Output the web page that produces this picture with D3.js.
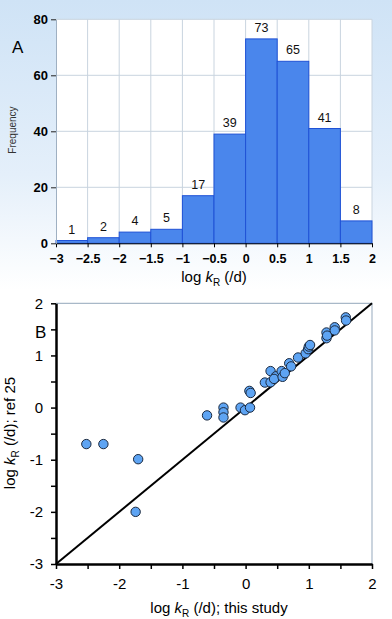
<!DOCTYPE html>
<meta charset="utf-8">
<head>
<style>
body { margin: 0; background: #fff; }
svg { display: block; font-family: "Liberation Sans", Arial, sans-serif; }
</style>
</head>
<script src="https://d3js.org/d3.v7.min.js"></script>
<div id="chart"></div>
<script>

// ---- data: panel A (histogram) ----
var binStarts = [-3, -2.5, -2, -1.5, -1, -0.5, 0, 0.5, 1, 1.5];
var binWidth = 0.5;
var frequency = [1, 2, 4, 5, 17, 39, 73, 65, 41, 8];
var histXTicks = [-3, -2.5, -2, -1.5, -1, -0.5, 0, 0.5, 1, 1.5, 2];
var histYTicks = [0, 20, 40, 60, 80];

// ---- data: panel B (scatter) ----
var studyLogK = [-2.52, -2.25, -1.70, -1.74, -0.61, -0.35, -0.35, -0.35, -0.08, -0.01,
                 0.07, 0.06, 0.08, 0.305, 0.395, 0.395, 0.48, 0.45, 0.57, 0.585, 0.62,
                 0.69, 0.72, 0.83, 0.95, 0.99, 1.0, 1.02, 1.28, 1.28, 1.29, 1.41, 1.41,
                 1.585, 1.59];
var refLogK   = [-0.70, -0.70, -0.99, -2.0, -0.15, 0.0, -0.09, -0.19, 0.0, -0.05,
                 0.0, 0.32, 0.28, 0.48, 0.70, 0.485, 0.6, 0.55, 0.70, 0.59, 0.66,
                 0.85, 0.79, 0.96, 1.04, 1.12, 1.17, 1.2, 1.44, 1.33, 1.38, 1.54, 1.48,
                 1.73, 1.67];
var scatterTicks = [-3, -2, -1, 0, 1, 2];
var scatterMinor = [-3, -2.5, -2, -1.5, -1, -0.5, 0, 0.5, 1, 1.5, 2];

var W = 392, H = 619;
var svg = d3.select("#chart").append("svg")
  .attr("width", W).attr("height", H);

// panel A background gradient
var defs = svg.append("defs");
var grad = defs.append("linearGradient").attr("id", "bgA")
  .attr("x1", 0).attr("y1", 0).attr("x2", 0).attr("y2", 1);
grad.append("stop").attr("offset", "0%").attr("stop-color", "#cfe3f6");
grad.append("stop").attr("offset", "60%").attr("stop-color", "#e4effa");
grad.append("stop").attr("offset", "100%").attr("stop-color", "#ffffff");
svg.append("rect").attr("x", 0).attr("y", 0).attr("width", W).attr("height", 290)
  .attr("fill", "url(#bgA)");

// ================= Panel A =================
var xA = d3.scaleLinear().domain([-3, 2]).range([56, 372]);
var yA = d3.scaleLinear().domain([0, 80]).range([243.3, 19.3]);

svg.append("rect")
  .attr("x", xA(-3)).attr("y", yA(80))
  .attr("width", xA(2) - xA(-3)).attr("height", yA(0) - yA(80))
  .attr("fill", "#fff");

// grid
svg.append("g").selectAll("line").data(histXTicks.slice(1)).join("line")
  .attr("x1", d => xA(d)).attr("x2", d => xA(d))
  .attr("y1", yA(80)).attr("y2", yA(0))
  .attr("stroke", "#c9d4df").attr("stroke-width", 1);
svg.append("g").selectAll("line").data(histYTicks.slice(1)).join("line")
  .attr("x1", xA(-3)).attr("x2", xA(2))
  .attr("y1", d => yA(d)).attr("y2", d => yA(d))
  .attr("stroke", "#c9d4df").attr("stroke-width", 1);

// bars
svg.append("g").selectAll("rect").data(binStarts).join("rect")
  .attr("x", d => xA(d))
  .attr("y", (d, i) => yA(frequency[i]))
  .attr("width", xA(binWidth) - xA(0))
  .attr("height", (d, i) => yA(0) - yA(frequency[i]))
  .attr("fill", "#4a86ec")
  .attr("stroke", "#1f52d6")
  .attr("stroke-width", 1);

// bar labels
svg.append("g").selectAll("text").data(binStarts).join("text")
  .attr("x", d => xA(d + binWidth / 2))
  .attr("y", (d, i) => yA(frequency[i]) - 7)
  .attr("text-anchor", "middle")
  .style("font-size", "12.5px")
  .style("fill", "#111")
  .text((d, i) => frequency[i]);

// axes
var axAx = svg.append("g")
  .attr("transform", "translate(0," + yA(0) + ")")
  .call(d3.axisBottom(xA).tickValues(histXTicks).tickSize(4).tickSizeOuter(0).tickFormat(d3.format("")));
axAx.select(".domain").attr("stroke", "#000");
axAx.selectAll("text").style("font-size", "12.5px").style("font-weight", "bold").attr("dy", "1.05em");

var axAy = svg.append("g")
  .attr("transform", "translate(" + xA(-3) + ",0)")
  .call(d3.axisLeft(yA).tickValues(histYTicks).tickSize(5).tickSizeOuter(0));
axAy.select(".domain").attr("stroke", "#9fb0c2");
axAy.selectAll("line").attr("stroke", "#222");
axAy.selectAll("text").style("font-size", "13px").style("font-weight", "bold").attr("x", -8);

svg.append("text").attr("x", 12).attr("y", 53)
  .style("font-size", "17px").text("A");

svg.append("text")
  .attr("transform", "translate(16,130) rotate(-90)")
  .attr("text-anchor", "middle")
  .style("font-size", "10px").style("fill", "#333")
  .text("Frequency");

var tA = svg.append("text").attr("x", 214).attr("y", 282)
  .attr("text-anchor", "middle").style("font-size", "15px");
tA.append("tspan").text("log ");
tA.append("tspan").style("font-style", "italic").text("k");
tA.append("tspan").attr("dy", 4).style("font-size", "10px").text("R");
tA.append("tspan").attr("dy", -4).text(" (/d)");

// ================= Panel B =================
var xB = d3.scaleLinear().domain([-3, 2]).range([56, 372]);
var yB = d3.scaleLinear().domain([-3, 2]).range([564, 303.3]);

// top/right frame
svg.append("path")
  .attr("d", "M" + xB(-3) + "," + yB(2) + "H" + xB(2) + "V" + yB(-3))
  .attr("fill", "none").attr("stroke", "#a8b8c8").attr("stroke-width", 1.2);

// 1:1 line
svg.append("line")
  .attr("x1", xB(-3)).attr("y1", yB(-3))
  .attr("x2", xB(2)).attr("y2", yB(2))
  .attr("stroke", "#000").attr("stroke-width", 2);

// points
svg.append("g").selectAll("circle").data(studyLogK).join("circle")
  .attr("cx", d => xB(d))
  .attr("cy", (d, i) => yB(refLogK[i]))
  .attr("r", 4.7)
  .attr("fill", "#5ea4f3")
  .attr("stroke", "#1b2a40")
  .attr("stroke-width", 1);

// axes
var axBx = svg.append("g")
  .attr("transform", "translate(0," + yB(-3) + ")")
  .call(d3.axisBottom(xB).tickValues(scatterMinor).tickSize(5).tickSizeOuter(0)
    .tickFormat(d => scatterTicks.indexOf(d) >= 0 ? d : ""));
axBx.select(".domain").attr("stroke", "#000").attr("stroke-width", 2.5);
axBx.selectAll("line").attr("stroke", "#000").attr("stroke-width", 1.5);
axBx.selectAll("text").style("font-size", "15px").attr("dy", "1.1em");

var axBy = svg.append("g")
  .attr("transform", "translate(" + xB(-3) + ",0)")
  .call(d3.axisLeft(yB).tickValues(scatterMinor).tickSize(5).tickSizeOuter(0)
    .tickFormat(d => scatterTicks.indexOf(d) >= 0 ? d : ""));
axBy.select(".domain").attr("stroke", "#000").attr("stroke-width", 2.5);
axBy.selectAll("line").attr("stroke", "#000").attr("stroke-width", 1.5);
axBy.selectAll("text").style("font-size", "15px").attr("x", -13);

svg.append("text").attr("x", 35).attr("y", 338)
  .style("font-size", "17px").text("B");

var tBy = svg.append("text")
  .attr("transform", "translate(15,433) rotate(-90)")
  .attr("text-anchor", "middle").style("font-size", "15px");
tBy.append("tspan").text("log ");
tBy.append("tspan").style("font-style", "italic").text("k");
tBy.append("tspan").attr("dy", 4).style("font-size", "10px").text("R");
tBy.append("tspan").attr("dy", -4).text(" (/d);  ref 25");

var tBx = svg.append("text").attr("x", 219).attr("y", 613)
  .attr("text-anchor", "middle").style("font-size", "15px");
tBx.append("tspan").text("log ");
tBx.append("tspan").style("font-style", "italic").text("k");
tBx.append("tspan").attr("dy", 4).style("font-size", "10px").text("R");
tBx.append("tspan").attr("dy", -4).text("  (/d); this study");

</script>
